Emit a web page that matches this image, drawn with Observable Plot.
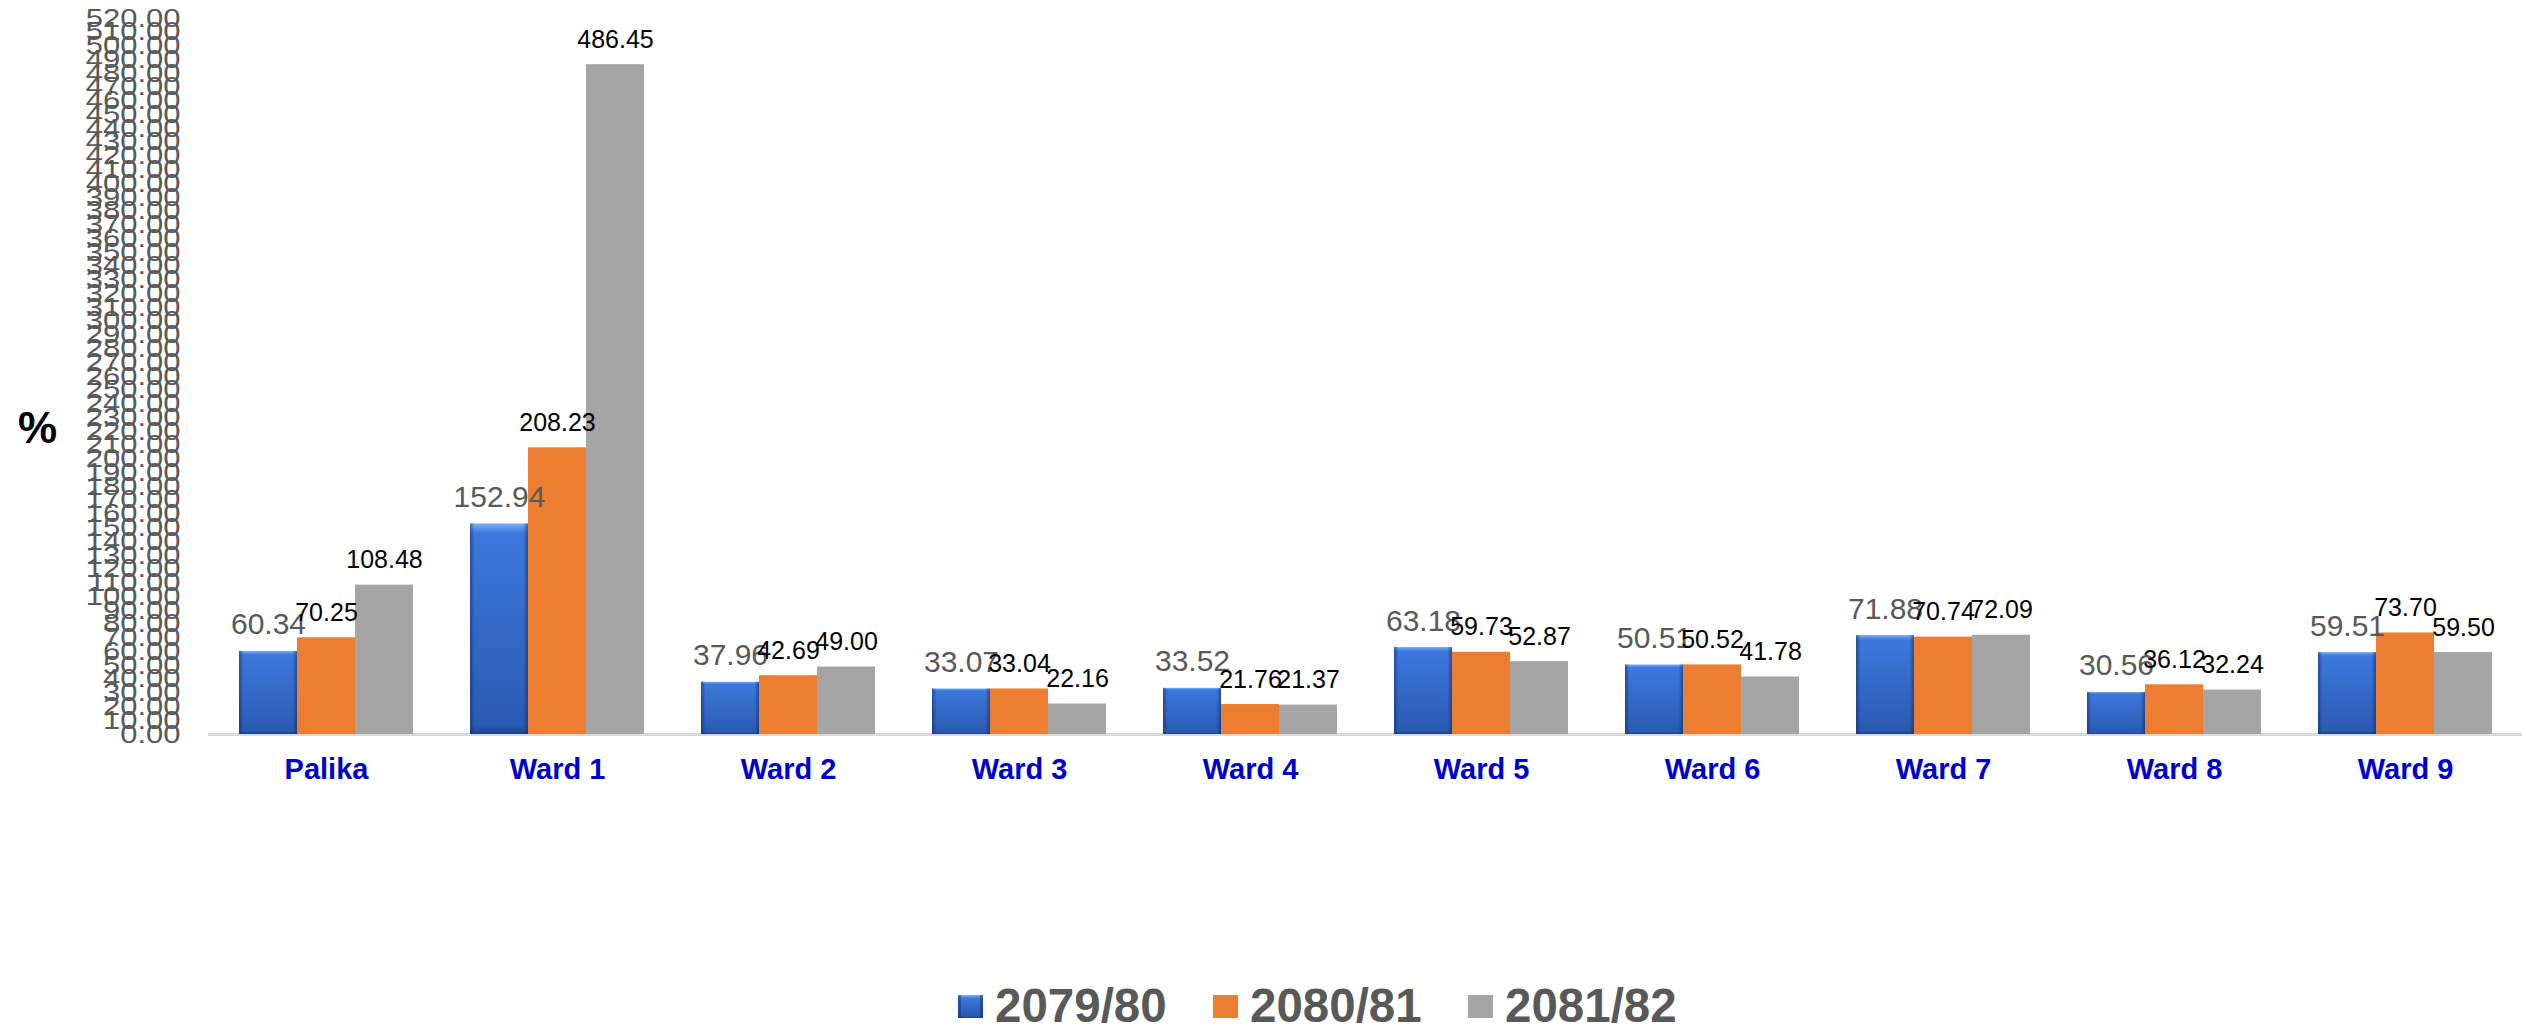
<!DOCTYPE html>
<html><head><meta charset="utf-8">
<script src="https://cdn.jsdelivr.net/npm/d3@7"></script>
<script src="https://cdn.jsdelivr.net/npm/@observablehq/plot@0.6"></script>
<style>
html,body{margin:0;padding:0;background:#fff;}
#wrap{position:relative;width:2522px;height:1027px;font-family:"Liberation Sans",Arial,sans-serif;overflow:hidden;}
#chart{position:absolute;left:0;top:0;}
#pct{position:absolute;left:18px;top:406px;font-size:44px;font-weight:bold;line-height:1;color:#000;}
#legend{position:absolute;left:958px;top:986px;display:flex;align-items:center;height:40px;}
.item{display:flex;align-items:center;width:255px;}
.sw{width:25px;height:23px;margin-right:12px;flex:none;}
.lt{font-size:47.5px;font-weight:bold;color:#595959;line-height:40px;height:40px;white-space:nowrap;}
svg g[aria-label="x-axis tick label"] text{font-weight:bold;}
</style></head>
<body><div id="wrap"><div id="chart"></div><div id="pct">%</div><div id="legend"></div></div>
<script>
const categories = ["Palika","Ward 1","Ward 2","Ward 3","Ward 4","Ward 5","Ward 6","Ward 7","Ward 8","Ward 9"];
const series = ["2079/80","2080/81","2081/82"];
const v2079 = [60.34,152.94,37.96,33.07,33.52,63.18,50.51,71.88,30.56,59.51];
const v2080 = [70.25,208.23,42.69,33.04,21.76,59.73,50.52,70.74,36.12,73.70];
const v2081 = [108.48,486.45,49.00,22.16,21.37,52.87,41.78,72.09,32.24,59.50];
const yTicks = [0,10,20,30,40,50,60,70,80,90,100,110,120,130,140,150,160,170,180,190,200,210,220,230,240,250,260,270,280,290,300,310,320,330,340,350,360,370,380,390,400,410,420,430,440,450,460,470,480,490,500,510,520];
const seriesColors = ["url(#blueFace)","#ED7D31","#A5A5A5"];
const labelColors = ["#595959","#000000","#000000"];
const labelSizes = [30,25,25];

const allValues = [v2079, v2080, v2081];
const data = [];
series.forEach((s, si) => categories.forEach((c, ci) => data.push({cat: c, series: s, si, value: allValues[si][ci]})));

const W = 2522, H = 810, mL = 208, mR = 0, mT = 18, mB = 76;
const padIn = 0.248, padOut = 0.124;
const step = (W - mL - mR) / (categories.length - padIn + 2 * padOut);
const bw = step * (1 - padIn);
const third = bw / 3;

const marks = [Plot.ruleY([0], {stroke: "#D9D9D9", strokeWidth: 3})];
series.forEach((s, si) => {
  const d = data.filter(r => r.si === si);
  marks.push(Plot.barY(d, {x: "cat", y: "value", fill: seriesColors[si], insetLeft: si * third, insetRight: (2 - si) * third}));
  if (si === 0) marks.push(Plot.barY(d, {x: "cat", y: "value", fill: "url(#blueEdge)", insetLeft: si * third, insetRight: (2 - si) * third}));
});
series.forEach((s, si) => {
  const d = data.filter(r => r.si === si);
  marks.push(Plot.text(d, {x: "cat", y: "value", text: r => r.value.toFixed(2), dx: (si - 1) * third, dy: -17, lineAnchor: "bottom", fontSize: labelSizes[si], fill: labelColors[si]}));
});
marks.push(Plot.axisY({ticks: yTicks, tickFormat: d3.format(".2f"), tickSize: 0, tickPadding: 28, fontSize: 25, color: "#595959", label: null}));
marks.push(Plot.axisX({tickSize: 0, tickPadding: 24, fontSize: 29, fontWeight: "bold", color: "#0000CC", label: null}));

const svg = Plot.plot({
  width: W, height: H,
  marginLeft: mL, marginRight: mR, marginTop: mT, marginBottom: mB,
  style: {fontFamily: "'Liberation Sans', Arial, sans-serif", background: "#fff", overflow: "visible"},
  x: {domain: categories, paddingInner: padIn, paddingOuter: padOut, axis: null},
  y: {domain: [0, 520], nice: false, axis: null},
  marks
});

const NS = "http://www.w3.org/2000/svg";
function grad(id, x2, y2, stops) {
  const g = document.createElementNS(NS, "linearGradient");
  g.setAttribute("id", id); g.setAttribute("x1", "0"); g.setAttribute("y1", "0");
  g.setAttribute("x2", x2); g.setAttribute("y2", y2);
  stops.forEach(([o, c, op]) => {
    const st = document.createElementNS(NS, "stop");
    st.setAttribute("offset", o); st.setAttribute("stop-color", c);
    if (op !== undefined) st.setAttribute("stop-opacity", op);
    g.appendChild(st);
  });
  return g;
}
const defs = document.createElementNS(NS, "defs");
defs.appendChild(grad("blueFace", "0", "1", [["0", "#7db3f7"], ["0.025", "#5690e9"], ["0.05", "#3c78dc"], ["0.96", "#2a5bb3"], ["1", "#1c4389"]]));
defs.appendChild(grad("blueEdge", "1", "0", [["0", "#0b2a66", 0.55], ["0.08", "#0b2a66", 0], ["0.92", "#0b2a66", 0], ["1", "#0b2a66", 0.55]]));
svg.insertBefore(defs, svg.firstChild);

svg.querySelectorAll('g[aria-label="y-axis tick label"] text').forEach(t => {
  const tr = t.getAttribute("transform") || "";
  t.setAttribute("transform", tr + " scale(1.24,1)");
});
document.getElementById("chart").appendChild(svg);

const legend = document.getElementById("legend");
const swatchCss = [
  "background:linear-gradient(#7db3f7 0%,#3c78dc 14%,#2a5bb3 88%,#1c4389 100%);box-shadow:inset 3px 0 0 rgba(11,42,102,.45),inset -3px 0 0 rgba(11,42,102,.45);",
  "background:#ED7D31;",
  "background:#A5A5A5;"
];
series.forEach((s, si) => {
  const it = document.createElement("div"); it.className = "item";
  const sw = document.createElement("div"); sw.className = "sw"; sw.style.cssText = swatchCss[si];
  const lt = document.createElement("div"); lt.className = "lt"; lt.textContent = s;
  it.appendChild(sw); it.appendChild(lt); legend.appendChild(it);
});
</script></body></html>
